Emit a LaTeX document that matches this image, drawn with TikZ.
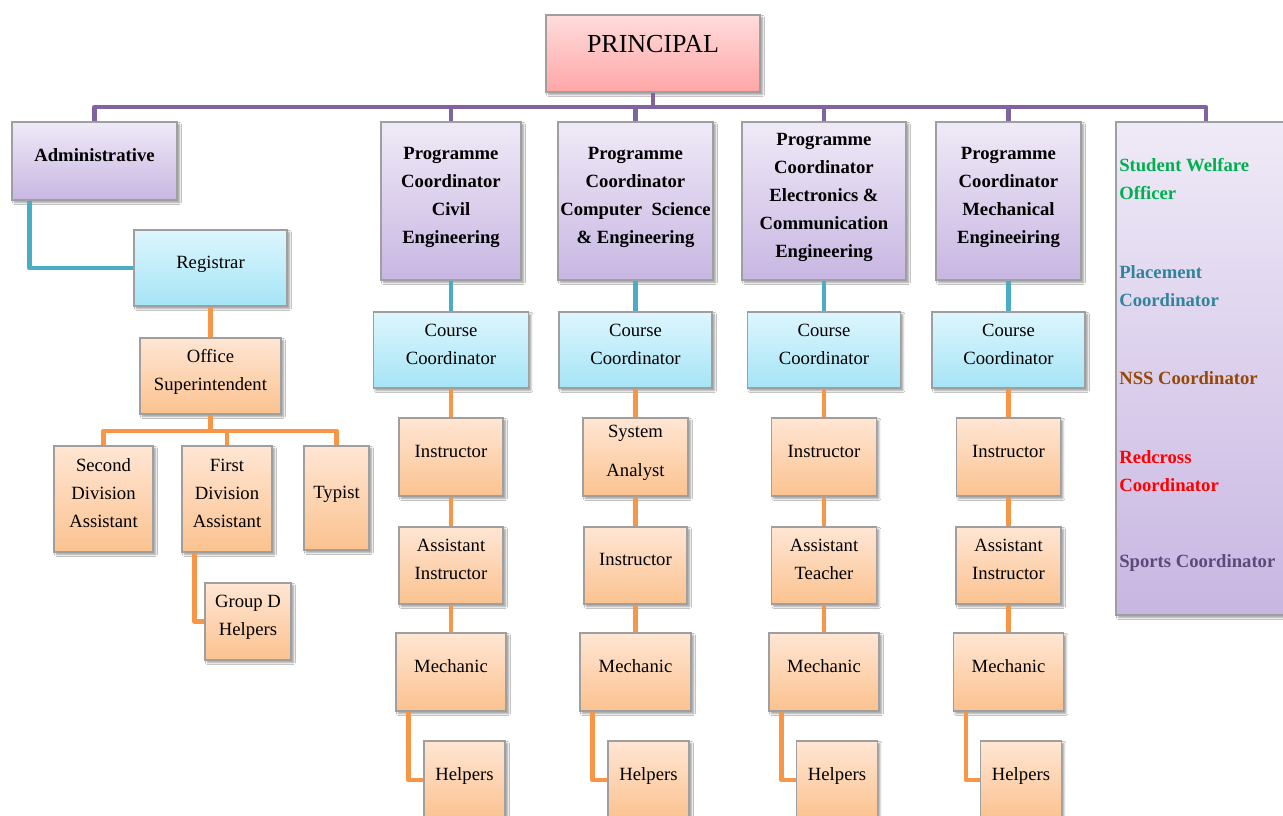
\documentclass[tikz,border=0pt]{standalone}
\usepackage{fontspec}
\setmainfont{Liberation Serif}
\usetikzlibrary{positioning,shadows.blur}

\definecolor{PinkTop}{HTML}{FFDCDC}
\definecolor{PinkBot}{HTML}{FFA6A6}
\definecolor{VioTop}{HTML}{EFEAF7}
\definecolor{VioBot}{HTML}{C8B6E2}
\definecolor{BlueTop}{HTML}{DDF6FD}
\definecolor{BlueBot}{HTML}{A5E4F6}
\definecolor{OrTop}{HTML}{FFE6D4}
\definecolor{OrBot}{HTML}{FBC28F}
\definecolor{LineViolet}{HTML}{8064A2}
\definecolor{LineTeal}{HTML}{4BACC6}
\definecolor{LineOrange}{HTML}{F79646}
\definecolor{WelfareGreen}{HTML}{00B050}
\definecolor{PlaceTeal}{HTML}{31849B}
\definecolor{NssBrown}{HTML}{974706}
\definecolor{RedcrossRed}{HTML}{FF0000}
\definecolor{SportsViolet}{HTML}{5F497A}

\begin{document}
\begin{tikzpicture}[x=0.75pt,y=-0.75pt]
  \tikzset{box/.style = {shape = rectangle, draw = gray!75, line width = 0.8pt, inner sep = 1pt, align = center,
                         font = \fontsize{14}{21}\selectfont, text depth = 9pt,
                         blur shadow = {shadow xshift = 1.8pt, shadow yshift = -1.8pt, shadow blur radius = 1.5pt}}}
  \tikzset{head/.style = {box, top color = PinkTop, bottom color = PinkBot}}
  \tikzset{prog/.style = {box, top color = VioTop, bottom color = VioBot, font = \fontsize{14}{21}\selectfont\bfseries}}
  \tikzset{course/.style = {box, top color = BlueTop, bottom color = BlueBot}}
  \tikzset{staff/.style = {box, top color = OrTop, bottom color = OrBot}}
  \tikzset{sidetext/.style = {anchor = west, align = left, inner sep = 0pt, font = \fontsize{14}{21}\selectfont\bfseries}}
  \tikzset{vlink/.style = {draw = LineViolet, line width = 3.5pt, line join = round}}
  \tikzset{tlink/.style = {draw = LineTeal, line width = 3.5pt, line join = round}}
  \tikzset{olink/.style = {draw = LineOrange, line width = 3.5pt, line join = round}}

  \path[use as bounding box, fill = white] (0,0) rectangle (1283,816);

  \node[head, minimum width = 160.5pt, minimum height = 57.75pt, font = \fontsize{19.5}{24}\selectfont, text depth = 14pt] (Principal) at (653,53.5) {PRINCIPAL};

  % administration
  \node[prog, minimum width = 123.75pt, minimum height = 58.5pt] (Admin) at (94.5,161) {Administrative};
  \node[course, minimum width = 114.75pt, minimum height = 57pt] (Registrar) at (210.5,268) {Registrar};
  \node[staff, minimum width = 105.75pt, minimum height = 57pt] (Office) at (210.5,376) {Office\\Superintendent};
  \node[staff, minimum width = 74.25pt, minimum height = 79.5pt] (SecondDA) at (103.5,499) {Second\\Division\\Assistant};
  \node[staff, minimum width = 67.5pt, minimum height = 79.5pt] (FirstDA) at (227,499) {First\\Division\\Assistant};
  \node[staff, minimum width = 48.75pt, minimum height = 78pt] (Typist) at (336.5,498) {Typist};
  \node[staff, minimum width = 64.5pt, minimum height = 57.75pt] (GroupD) at (248,621.5) {Group D\\Helpers};

  % programme coordinators
  \node[prog, minimum width = 105pt, minimum height = 118.5pt] (CivilPC) at (451,201) {Programme\\Coordinator\\Civil\\Engineering};
  \node[prog, minimum width = 116.25pt, minimum height = 118.5pt] (CsPC) at (635.5,201) {Programme\\Coordinator\\Computer\ \ Science\\\& Engineering};
  \node[prog, minimum width = 123pt, minimum height = 118.5pt] (EcePC) at (824,201) {Programme\\Coordinator\\Electronics \&\\Communication\\Engineering};
  \node[prog, minimum width = 108.75pt, minimum height = 118.5pt] (MechPC) at (1008.5,201) {Programme\\Coordinator\\Mechanical\\Engineeiring};
  \node[prog, minimum width = 135pt, minimum height = 369.75pt] (Side) at (1206,368.5) {};

  \node[sidetext, text = WelfareGreen] (Welfare) at (1119,179) {Student Welfare\\Officer};
  \node[sidetext, text = PlaceTeal] (Placement) at (1119,286) {Placement\\Coordinator};
  \node[sidetext, text = NssBrown] (Nss) at (1119,378) {NSS Coordinator};
  \node[sidetext, text = RedcrossRed] (Redcross) at (1119,471) {Redcross\\Coordinator};
  \node[sidetext, text = SportsViolet] (Sports) at (1119,563) {Sports Coordinator};

  % course coordinators
  \node[course, minimum width = 116.25pt, minimum height = 57pt] (CivilCC) at (451,350) {Course\\Coordinator};
  \node[course, minimum width = 114.75pt, minimum height = 57pt] (CsCC) at (635.5,350) {Course\\Coordinator};
  \node[course, minimum width = 114.75pt, minimum height = 57pt] (EceCC) at (824,350) {Course\\Coordinator};
  \node[course, minimum width = 114.75pt, minimum height = 57pt] (MechCC) at (1008.5,350) {Course\\Coordinator};

  % staff rows
  \node[staff, minimum width = 78pt, minimum height = 58.5pt] (CivilR1) at (451,457) {Instructor};
  \node[staff, minimum width = 78.75pt, minimum height = 58.5pt] (CsR1) at (635.5,457) {System\\[8pt]Analyst};
  \node[staff, minimum width = 78.75pt, minimum height = 58.5pt] (EceR1) at (824,457) {Instructor};
  \node[staff, minimum width = 78pt, minimum height = 58.5pt] (MechR1) at (1008.5,457) {Instructor};

  \node[staff, minimum width = 78pt, minimum height = 57.75pt] (CivilR2) at (451,565.5) {Assistant\\Instructor};
  \node[staff, minimum width = 77.25pt, minimum height = 57.75pt] (CsR2) at (635.5,565.5) {Instructor};
  \node[staff, minimum width = 78.75pt, minimum height = 57.75pt] (EceR2) at (824,565.5) {Assistant\\Teacher};
  \node[staff, minimum width = 78.75pt, minimum height = 57.75pt] (MechR2) at (1008.5,565.5) {Assistant\\Instructor};

  \node[staff, minimum width = 82.5pt, minimum height = 58.5pt] (CivilR3) at (451,672) {Mechanic};
  \node[staff, minimum width = 83.25pt, minimum height = 58.5pt] (CsR3) at (635.5,672) {Mechanic};
  \node[staff, minimum width = 82.5pt, minimum height = 58.5pt] (EceR3) at (824,672) {Mechanic};
  \node[staff, minimum width = 82.5pt, minimum height = 58.5pt] (MechR3) at (1008.5,672) {Mechanic};

  \node[staff, minimum width = 60.75pt, minimum height = 58.5pt] (CivilHelp) at (464.5,780) {Helpers};
  \node[staff, minimum width = 60.75pt, minimum height = 58.5pt] (CsHelp) at (648.5,780) {Helpers};
  \node[staff, minimum width = 60.75pt, minimum height = 58.5pt] (EceHelp) at (837,780) {Helpers};
  \node[staff, minimum width = 60.75pt, minimum height = 58.5pt] (MechHelp) at (1021,780) {Helpers};

  % connectors
  \coordinate (Bus) at (653,107);
  \draw[vlink] (Principal.south) -- (Bus);
  \foreach \n in {Admin,CivilPC,CsPC,EcePC,MechPC,Side}
    \draw[vlink] (Bus) -| (\n.north);

  \draw[tlink] ([xshift=13.5pt]Admin.south west) |- (Registrar.west);
  \draw[olink] (Registrar.south) -- (Office.north);
  \coordinate (OfficeBus) at (210.5,431);
  \draw[olink] (Office.south) -- (OfficeBus);
  \foreach \n in {SecondDA,FirstDA,Typist}
    \draw[olink] (OfficeBus) -| (\n.north);
  \draw[olink] ([xshift=9.75pt]FirstDA.south west) |- (GroupD.west);

  \foreach \c in {Civil,Cs,Ece,Mech} {
    \draw[tlink] (\c PC.south) -- (\c CC.north);
    \draw[olink] (\c CC.south) -- (\c R1.north);
    \draw[olink] (\c R1.south) -- (\c R2.north);
    \draw[olink] (\c R2.south) -- (\c R3.north);
    \draw[olink] ([xshift=9.75pt]\c R3.south west) |- (\c Help.west);
  }
\end{tikzpicture}
\end{document}
